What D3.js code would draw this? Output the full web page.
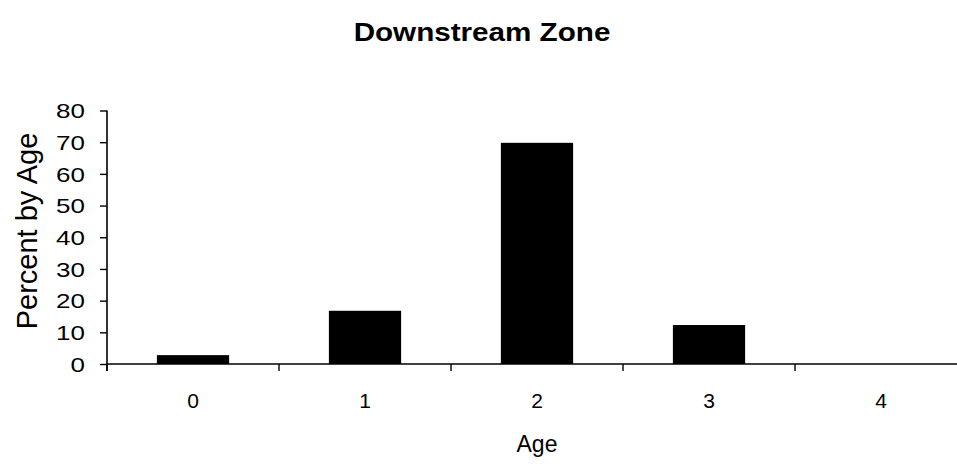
<!DOCTYPE html>
<html><head><meta charset="utf-8">
<script src="https://cdn.jsdelivr.net/npm/d3@7"></script>
<style>body{margin:0;background:#fff}svg{display:block}text{font-family:"Liberation Sans",Arial,sans-serif;fill:#000}</style>
</head><body>
<svg id="c" width="957" height="466"></svg>
<script>
const categories = ["0", "1", "2", "3", "4"];
const values = [2.8, 16.8, 69.8, 12.3, 0];
const yTicks = [0, 10, 20, 30, 40, 50, 60, 70, 80];
const title = "Downstream Zone";
const xTitle = "Age";
const yTitle = "Percent by Age";

const svg = d3.select("#c");
const x = d3.scaleBand().domain(categories).range([107, 967]).paddingInner(0.58).paddingOuter(0.29);
const y = d3.scaleLinear().domain([0, 80]).range([364, 110.5]);

// bars
svg.append("g").selectAll("rect").data(values).join("rect")
  .attr("x", (d, i) => x(categories[i]))
  .attr("width", x.bandwidth())
  .attr("y", d => y(d))
  .attr("height", d => y(0) - y(d))
  .attr("fill", "#000");

// y axis
const yAxis = svg.append("g").attr("transform", "translate(107,0)")
  .call(d3.axisLeft(y).tickValues(yTicks).tickSize(7).tickPadding(0));
yAxis.select(".domain").attr("stroke", "#000").attr("stroke-width", 1.6).attr("d", `M0,${y(80)}V${y(0) + 7}`);
yAxis.selectAll(".tick line").attr("stroke", "#000").attr("stroke-width", 1.4);
yAxis.selectAll(".tick text").attr("font-size", 20).attr("text-anchor", "end")
  .attr("font-family", "Liberation Sans, Arial, sans-serif")
  .attr("x", null).attr("dy", "0.36em")
  .attr("transform", "translate(-22,0) scale(1.3,1)");

// x axis
const xAxis = svg.append("g").attr("transform", `translate(0,${y(0)})`)
  .call(d3.axisBottom(x).tickSize(0).tickPadding(0));
xAxis.select(".domain").attr("stroke", "#000").attr("stroke-width", 1.6).attr("d", `M107,0H957`);
xAxis.selectAll(".tick text").attr("font-size", 21).attr("font-family", "Liberation Sans, Arial, sans-serif")
  .attr("dy", null).attr("y", 44);
// boundary ticks between categories
const bounds = d3.range(categories.length + 1).map(i => x.range()[0] + i * x.step());
xAxis.selectAll("line.bt").data(bounds).join("line").attr("class", "bt")
  .attr("x1", d => d).attr("x2", d => d).attr("y1", 0).attr("y2", 7)
  .attr("stroke", "#000").attr("stroke-width", 1.4);

// titles
svg.append("text").attr("x", 482).attr("y", 41).attr("text-anchor", "middle")
  .attr("font-size", 26).attr("font-weight", "bold")
  .attr("transform", "translate(482,0) scale(1.14,1) translate(-482,0)")
  .text(title);
svg.append("text").attr("x", 537).attr("y", 452).attr("text-anchor", "middle")
  .attr("font-size", 23).text(xTitle);
svg.append("text").attr("transform", "translate(37,231) rotate(-90)").attr("text-anchor", "middle")
  .attr("font-size", 29).text(yTitle);
</script>
</body></html>
